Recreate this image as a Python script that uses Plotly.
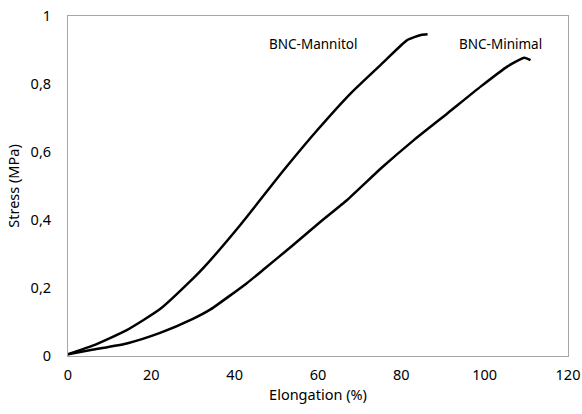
import plotly.graph_objects as go

mannitol_x = [0, 6.1, 14.1, 22.1, 30.1, 32.5, 41.4, 51.8, 59.8, 67.8, 75.8, 81.4, 84.7, 86.3]
mannitol_y = [0.005, 0.031, 0.076, 0.138, 0.229, 0.259, 0.386, 0.547, 0.664, 0.772, 0.865, 0.929, 0.944, 0.946]

minimal_x = [0, 6.1, 14.1, 22.1, 30.1, 34.2, 43.0, 47.0, 53.4, 60.6, 67.0, 75.4, 83.0, 91.1, 99.1, 105.5, 109.5, 111.0]
minimal_y = [0.005, 0.019, 0.037, 0.068, 0.11, 0.137, 0.215, 0.255, 0.32, 0.395, 0.459, 0.555, 0.635, 0.714, 0.793, 0.852, 0.877, 0.87]

x_ticks = [0, 20, 40, 60, 80, 100, 120]
y_ticks = [0, 0.2, 0.4, 0.6, 0.8, 1]
y_tick_labels = ["0", "0,2", "0,4", "0,6", "0,8", "1"]

labels = ["BNC-Mannitol", "BNC-Minimal"]
label_x = [58.7, 103.9]
label_y = [0.919, 0.919]

FONT = "Noto Sans"

fig = go.Figure()
fig.add_trace(go.Scatter(x=mannitol_x, y=mannitol_y, mode="lines",
                         line=dict(color="black", width=2.5, shape="spline", smoothing=0.5),
                         name=labels[0], showlegend=False))
fig.add_trace(go.Scatter(x=minimal_x, y=minimal_y, mode="lines",
                         line=dict(color="black", width=2.5, shape="spline", smoothing=0.5),
                         name=labels[1], showlegend=False))

for t, xx, yy in zip(labels, label_x, label_y):
    fig.add_annotation(x=xx, y=yy, text=t, showarrow=False,
                       font=dict(family=FONT, size=13.5, color="black"))

axis_common = dict(showline=True, linecolor="#a6a6a6", linewidth=1, mirror=True,
                   showgrid=False, zeroline=False, ticks="", automargin=False,
                   ticklabeloverflow="allow",
                   tickfont=dict(family=FONT, size=14.5, color="black"))

fig.update_xaxes(range=[0, 120], tickvals=x_ticks, ticklabelstandoff=6,
                 title=dict(text="Elongation (%)", font=dict(family=FONT, size=14.5, color="black"), standoff=6),
                 **axis_common)
fig.update_yaxes(range=[0, 1], tickvals=y_ticks, ticktext=y_tick_labels, ticklabelstandoff=13,
                 title=dict(text="Stress (MPa)", font=dict(family=FONT, size=14.5, color="black"), standoff=7),
                 **axis_common)

fig.update_layout(width=582, height=414, margin=dict(l=68, r=14, t=16, b=58, autoexpand=False),
                  plot_bgcolor="white", paper_bgcolor="white")

fig.write_html("out.html", config={"displayModeBar": False},
               post_script="document.body.style.margin='0';document.body.style.overflow='hidden';")
